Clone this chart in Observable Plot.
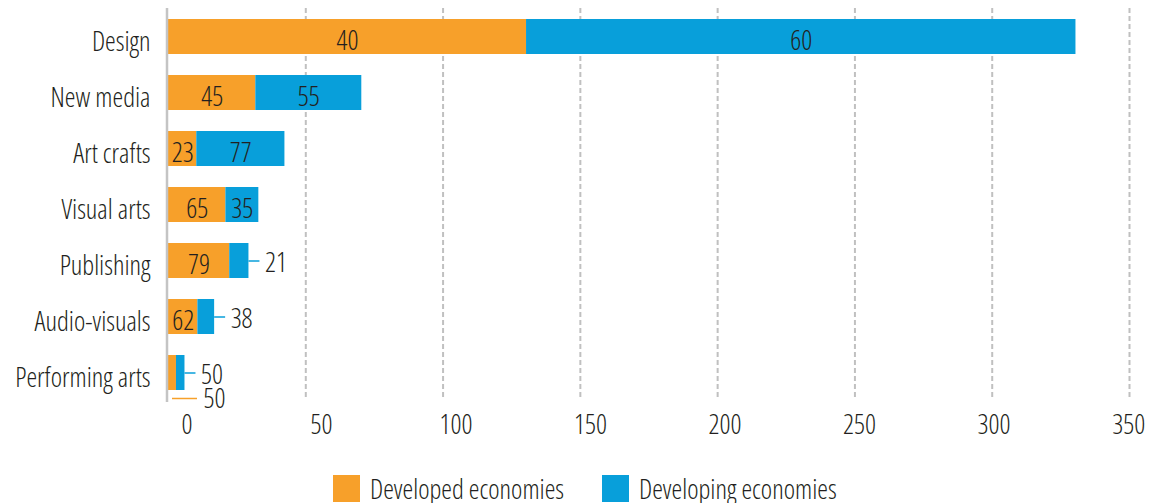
<!DOCTYPE html>
<html>
<head>
<meta charset="utf-8">
<script src="https://cdn.jsdelivr.net/npm/d3@7"></script>
<script src="https://cdn.jsdelivr.net/npm/@observablehq/plot@0.6"></script>
<style>
  html, body { margin: 0; padding: 0; background: #fff; overflow: hidden; }
  body { width: 1154px; height: 503px; font-family: 'Open Sans', sans-serif; font-stretch: 75%; font-weight: 300; }
  #legend { display: flex; align-items: center; height: 27px; margin-top: 5px; padding-left: 333px; font-size: 27px; line-height: 1; color: #231f20; }
  #legend .sw { width: 27px; height: 27px; margin-right: 10px; }
  #legend .item { display: flex; align-items: center; margin-right: 38px; }
</style>
</head>
<body>
<div id="chart"></div>
<div id="legend"></div>
<script>
const categories = ["Design", "New media", "Art crafts", "Visual arts", "Publishing", "Audio-visuals", "Performing arts"];
const developed  = [130.4, 31.8, 10.3, 20.9, 22.3, 10.7, 2.9];
const developing = [200.1, 38.6, 32.1, 12.0, 7.0, 6.1, 3.1];
const developedShare  = [40, 45, 23, 65, 79, 62, 50];
const developingShare = [60, 55, 77, 35, 21, 38, 50];
const developingOutside = [false, false, false, false, true, true, true];
const developedBelow    = [false, false, false, false, false, false, true];
const seriesNames = ["Developed economies", "Developing economies"];
const seriesColors = ["#F7A02A", "#089FDA"];
const xTicks = [0, 50, 100, 150, 200, 250, 300, 350];

const rows = [];
categories.forEach((c, i) => {
  rows.push({category: c, series: seriesNames[0], x1: 0, x2: developed[i], share: developedShare[i], outside: false, below: developedBelow[i]});
  rows.push({category: c, series: seriesNames[1], x1: developed[i], x2: developed[i] + developing[i], share: developingShare[i], outside: developingOutside[i], below: false});
});
const inside = rows.filter(d => !d.outside && !d.below);
const outside = rows.filter(d => d.outside);
const below = rows.filter(d => d.below);

const font = "'Open Sans', sans-serif";
const textColor = "#231f20";
const fs = 27;

const plot = Plot.plot({
  width: 1154,
  height: 470,
  marginLeft: 168,
  marginRight: 25,
  marginTop: 8,
  marginBottom: 70,
  style: {fontFamily: font, fontSize: fs + "px", fontStretch: "75%", fontWeight: 300, color: textColor, background: "#fff"},
  x: {domain: [0, 350], axis: null},
  y: {domain: categories, paddingInner: 0.38, paddingOuter: 0.16, axis: null},
  color: {domain: seriesNames, range: seriesColors},
  marks: [
    Plot.gridX(xTicks.filter(t => t > 0), {stroke: "#c0c0c0", strokeOpacity: 1, strokeWidth: 2, strokeDasharray: "5,3"}),
    ...xTicks.map(t => Plot.axisX([t], {tickSize: 0, tickPadding: 14, fontSize: fs, dx: 18.4 - 0.055 * t, fill: textColor, label: null, tickFormat: d => String(d)})),
    Plot.axisY({tickSize: 0, tickPadding: 18, fontSize: fs, dy: 5.5, fill: textColor, label: null}),
    Plot.barX(rows, {x1: "x1", x2: "x2", y: "category", fill: "series"}),
    Plot.ruleX([0], {stroke: "#c4c4c4", strokeWidth: 2.5, dx: -1.5, insetBottom: -2}),
    Plot.text(inside, {x: d => (d.x1 + d.x2) / 2, y: "category", text: d => String(d.share), fontSize: fs, dy: 4, fill: textColor}),
    Plot.ruleY(outside, {y: "category", x1: "x2", x2: "x2", insetRight: -11, stroke: seriesColors[1], strokeWidth: 1.5}),
    Plot.text(outside, {x: "x2", y: "category", text: d => String(d.share), fontSize: fs, dx: 16, dy: 2, textAnchor: "start", fill: textColor}),
    Plot.ruleX(below, {x: d => (d.x1 + d.x2) / 2, y: "category", insetTop: 27, dy: 8, stroke: seriesColors[0], strokeWidth: 1.5}),
    Plot.ruleY(below, {y: "category", x1: d => (d.x1 + d.x2) / 2, x2: d => (d.x1 + d.x2) / 2, insetRight: -25, dy: 25.5, stroke: seriesColors[0], strokeWidth: 1.5}),
    Plot.text(below, {x: "x2", y: "category", text: d => String(d.share), fontSize: fs, dx: 27, dy: 26, textAnchor: "start", fill: textColor})
  ]
});
document.getElementById("chart").append(plot);

const legend = document.getElementById("legend");
seriesNames.forEach((n, i) => {
  const item = document.createElement("div");
  item.className = "item";
  const sw = document.createElement("div");
  sw.className = "sw";
  sw.style.background = seriesColors[i];
  const label = document.createElement("span");
  label.textContent = n;
  item.append(sw, label);
  legend.append(item);
});
</script>
</body>
</html>
